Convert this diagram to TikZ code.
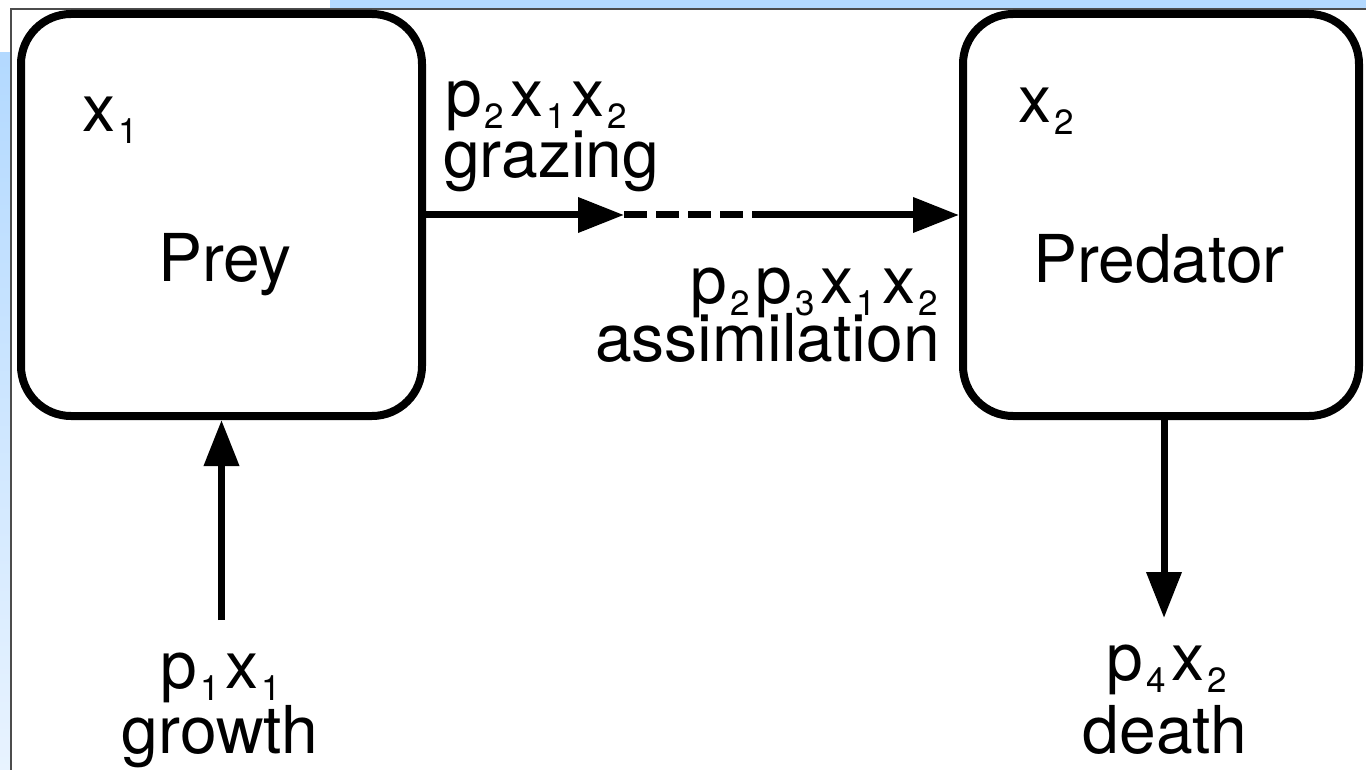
\documentclass[tikz,border=0pt]{standalone}
\usepackage{fontspec}
\setmainfont{TeX Gyre Heros}
\usetikzlibrary{arrows.meta}
\definecolor{bandblue}{RGB}{179,217,255}
\definecolor{bandpale}{RGB}{232,243,255}
\newcommand\sbs[1]{\kern3pt\raisebox{-12pt}{\fontsize{35}{35}\selectfont #1}\kern6pt}
\begin{document}
\begin{tikzpicture}[x=1pt,y=-1pt]
\tikzset{
  box/.style={draw, line width=8pt, rounded corners=50pt, inner sep=0pt,
    minimum width=401pt, minimum height=402pt},
  lbl/.style={font=\fontsize{66}{66}\selectfont, inner sep=0pt},
  flow/.style={line width=7pt, -{Triangle[length=46pt,width=34pt]}},
  dashflow/.style={line width=7pt, dash pattern=on 23pt off 9pt}
}
\useasboundingbox (0,0) rectangle (1366,770);
% window background
\fill[bandblue] (330,0) rectangle (1366,9);
\shade[top color=bandblue, bottom color=bandpale] (0,53) rectangle (11,770);
\draw[line width=1.5pt, black!70] (11,770) -- (11,9) -- (1366,9);
% boxes
\node[box] (prey) at (221.5,215) {};
\node[box, minimum width=396pt] (pred) at (1161,215) {};
% texts
\node[lbl, anchor=base west] (x1) at (82,132) {x\sbs{1}};
\node[lbl, anchor=base west] (x2) at (1018,123) {x\sbs{2}};
\node[lbl, anchor=base] (preyt) at (225,282) {Prey};
\node[lbl, anchor=base] (predt) at (1159,283) {Predator};
\node[lbl, anchor=base west] (grz1) at (445,117) {p\sbs{2}x\sbs{1}x\sbs{2}};
\node[lbl, anchor=base west] (grz2) at (443,178) {grazing};
\node[lbl, anchor=base east] (asm1) at (944,304) {p\sbs{2}p\sbs{3}x\sbs{1}x\sbs{2}};
\node[lbl, anchor=base east] (asm2) at (940,361) {assimilation};
\node[lbl, anchor=base] (gr1) at (224,688) {p\sbs{1}x\sbs{1}};
\node[lbl, anchor=base] (gr2) at (220,753) {growth};
\node[lbl, anchor=base] (de1) at (1170,680) {p\sbs{4}x\sbs{2}};
\node[lbl, anchor=base] (de2) at (1165,753) {death};
% connectors
\coordinate (gs) at (221.5,620);
\draw[flow] (gs) -- (prey.south);
\coordinate (dt) at (1164,618);
\draw[flow] (pred.south -| dt) -- (dt);
\coordinate (m1) at (624,215);
\coordinate (m2) at (753,215);
\draw[flow] (prey.east) -- (m1);
\draw[dashflow] (m1) -- (m2);
\draw[flow] (m2) -- (pred.west);
\end{tikzpicture}
\end{document}
